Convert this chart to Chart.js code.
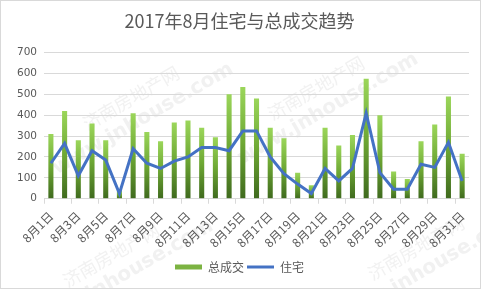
<!DOCTYPE html>
<html>
<head>
<meta charset="utf-8">
<script src="https://cdn.jsdelivr.net/npm/chart.js@4/dist/chart.umd.min.js"></script>
<style>
  html, body { margin: 0; padding: 0; background: #fff; }
  #wrap { width: 481px; height: 289px; position: relative; }
</style>
</head>
<body>
<div id="wrap"><canvas id="chart"></canvas></div>
<script>
// 8月每日成交（套）
const days = [];
for (let d = 1; d <= 31; d++) days.push('8月' + d + '日');

const totalDeals = [310, 420, 280, 360, 280, 40, 410, 320, 275, 365, 375, 340, 295, 500, 535,
                    480, 340, 290, 125, 65, 340, 255, 305, 575, 400, 130, 95, 275, 355, 490, 215];
const residential = [170, 265, 110, 230, 185, 25, 240, 170, 145, 180, 200, 245, 245, 230, 325,
                     325, 200, 120, 70, 25, 145, 85, 145, 410, 125, 45, 45, 165, 150, 270, 85];
const yTicks = [0, 100, 200, 300, 400, 500, 600, 700];

const textColor = '#595959';
const cjk = '"Noto Sans CJK SC", "Microsoft YaHei", sans-serif';

// each bar: dark green at the base, light green at the top
function barGradient(ctx) {
    const chart = ctx.chart;
    if (!chart.chartArea || ctx.type !== 'data') return '#7cb342';
    const y = chart.scales.y;
    const top = y.getPixelForValue(ctx.raw);
    const base = y.getPixelForValue(0);
    if (!isFinite(top) || !isFinite(base) || top === base) return '#7cb342';
    const g = chart.ctx.createLinearGradient(0, base, 0, top);
    g.addColorStop(0, '#3f6a1e');
    g.addColorStop(0.5, '#6ea834');
    g.addColorStop(1, '#9bd65a');
    return g;
}

const decor = {
    id: 'decor',
    beforeDraw(chart) {
        const c = chart.ctx;
        c.save();
        c.fillStyle = '#fff';
        c.fillRect(0, 0, chart.width, chart.height);
        // faint watermark
        c.fillStyle = 'rgba(200,200,200,0.25)';
        c.textAlign = 'center';
        const marks = [[135, 105], [320, 95], [115, 262], [420, 255]];
        marks.forEach(([x, y]) => {
            c.save();
            c.translate(x, y);
            c.rotate(-Math.PI / 6);
            c.font = '18px ' + cjk;
            c.fillText('济南房地产网', 0, -8);
            c.font = 'bold 20px "DejaVu Sans", sans-serif';
            c.fillText('www.jnhouse.com', 0, 16);
            c.restore();
        });
        c.restore();
    },
    afterDraw(chart) {
        const c = chart.ctx;
        c.save();
        c.strokeStyle = '#d9d9d9';
        c.lineWidth = 1;
        c.strokeRect(0.5, 0.5, chart.width - 1, chart.height - 1);
        c.restore();
    }
};

new Chart(document.getElementById('chart'), {
    data: {
        labels: days,
        datasets: [
            {
                type: 'line',
                label: '住宅',
                data: residential,
                borderColor: '#4472c4',
                backgroundColor: '#4472c4',
                borderWidth: 3,
                pointRadius: 0,
                tension: 0,
                pointStyle: 'line',
                order: 0
            },
            {
                type: 'bar',
                label: '总成交',
                data: totalDeals,
                backgroundColor: barGradient,
                categoryPercentage: 1,
                barPercentage: 0.37,
                pointStyle: 'rect',
                order: 1
            }
        ]
    },
    options: {
        responsive: true,
        maintainAspectRatio: false,
        animation: false,
        layout: { padding: { left: 10, right: 12, top: 4, bottom: 6 } },
        plugins: {
            title: {
                display: true,
                text: '2017年8月住宅与总成交趋势',
                color: textColor,
                font: { family: cjk, size: 18, weight: 'normal' },
                padding: { top: 6, bottom: 21 }
            },
            legend: {
                position: 'bottom',
                reverse: true,
                labels: {
                    color: textColor,
                    font: { family: cjk, size: 12 },
                    usePointStyle: true,
                    pointStyleWidth: 27,
                    boxHeight: 5,
                    padding: 3,
                    generateLabels(chart) {
                        const items = Chart.defaults.plugins.legend.labels.generateLabels(chart);
                        items.forEach(it => {
                            if (it.text === '总成交') {
                                it.fillStyle = '#7cb342';
                                it.strokeStyle = '#7cb342';
                                it.lineWidth = 0;
                            } else {
                                it.strokeStyle = '#4472c4';
                                it.lineWidth = 3;
                            }
                        });
                        return items;
                    }
                }
            },
            tooltip: { enabled: false }
        },
        scales: {
            x: {
                afterFit: axis => { axis.height += 3; },
                grid: {
                    display: true,
                    drawOnChartArea: false,
                    offset: true,
                    tickLength: 5,
                    color: ctx => (ctx.index % 2 === 0 ? '#d9d9d9' : 'rgba(0,0,0,0)')
                },
                border: { color: '#d9d9d9' },
                ticks: {
                    autoSkip: false,
                    maxRotation: 45,
                    minRotation: 45,
                    color: textColor,
                    font: { family: cjk, size: 12 },
                    padding: 5,
                    callback: (v, i) => (i % 2 === 0 ? days[i] : '')
                }
            },
            y: {
                min: 0,
                max: 700,
                afterBuildTicks: axis => { axis.ticks = yTicks.map(v => ({ value: v })); },
                grid: { color: '#d9d9d9', drawTicks: false },
                border: { display: false },
                ticks: {
                    color: textColor,
                    font: { family: '"DejaVu Sans", sans-serif', size: 10.5 },
                    padding: 7
                }
            }
        }
    },
    plugins: [decor]
});
</script>
</body>
</html>
